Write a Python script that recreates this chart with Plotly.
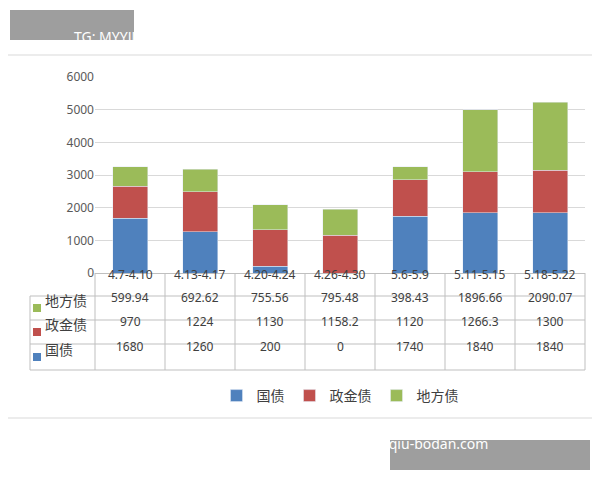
import plotly.graph_objects as go

periods = ["4.7-4.10", "4.13-4.17", "4.20-4.24", "4.26-4.30", "5.6-5.9", "5.11-5.15", "5.18-5.22"]
guozhai = [1680, 1260, 200, 0, 1740, 1840, 1840]
zhengjin = [970, 1224, 1130, 1158.2, 1120, 1266.3, 1300]
difang = [599.94, 692.62, 755.56, 795.48, 398.43, 1896.66, 2090.07]
series_names = ["国债", "政金债", "地方债"]
colors = ["#4f81bd", "#c0504d", "#9bbb59"]

# page body has an 8px margin, so work in screen pixels and shift
OFF = 8
W, H = 600, 480
L, R, T, B = 95 - OFF, 585 - OFF, 77 - OFF, 273 - OFF


def px(x):
    return (x - OFF - L) / (R - L)


def py(y):
    return (B - (y - OFF)) / (B - T)


fig = go.Figure()
for name, vals, c in zip(series_names, [guozhai, zhengjin, difang], colors):
    fig.add_trace(go.Bar(x=periods, y=vals, name=name, marker_color=c))

shapes = []
ann = []
line = dict(color="#bfbfbf", width=1)
shapes.append(dict(type="rect", xref="paper", yref="paper", x0=px(2), x1=px(598), y0=py(418), y1=py(55),
                   line=dict(color="#d9d9d9", width=1), layer="below"))
ncol = len(periods)
cw = (585 - 95) / ncol
for yy in [296, 320, 344, 370]:
    shapes.append(dict(type="line", xref="paper", yref="paper", x0=px(30), x1=px(585), y0=py(yy), y1=py(yy), line=line))
for k in range(ncol + 1):
    shapes.append(dict(type="line", xref="paper", yref="paper", x0=px(95 + k * cw), x1=px(95 + k * cw),
                       y0=py(273), y1=py(370), line=line))
shapes.append(dict(type="line", xref="paper", yref="paper", x0=px(30), x1=px(30), y0=py(296), y1=py(370), line=line))

font = dict(family="Noto Sans", size=12, color="#404040")
for p in periods:
    ann.append(dict(x=p, xref="x", y=py(285), yref="paper", text=p, showarrow=False, font=font))
rows = [(difang, "地方债", colors[2], 308), (zhengjin, "政金债", colors[1], 332), (guozhai, "国债", colors[0], 357)]
for vals, label, c, yy in rows:
    shapes.append(dict(type="rect", xref="paper", yref="paper", x0=px(33), x1=px(41), y0=py(yy + 4), y1=py(yy - 4),
                       fillcolor=c, line=dict(width=0)))
    ann.append(dict(x=px(43), xref="paper", y=py(yy + 4), yref="paper", text=label, showarrow=False, xanchor="left",
                    font=dict(family="Noto Sans CJK SC", size=14, color="#404040")))
    for p, v in zip(periods, vals):
        ann.append(dict(x=p, xref="x", y=py(yy), yref="paper", text=f"{v:g}", showarrow=False, font=font))

shapes.append(dict(type="rect", xref="paper", yref="paper", x0=px(10), x1=px(134), y0=py(40), y1=py(10),
                   fillcolor="#9e9e9e", line=dict(width=0), layer="below"))
ann.append(dict(x=px(72), xref="paper", y=py(25), yref="paper", text="TG: MYYJJPP", showarrow=False,
                font=dict(family="Noto Sans", size=14, color="white")))
shapes.append(dict(type="rect", xref="paper", yref="paper", x0=px(390), x1=px(590), y0=py(470), y1=py(440),
                   fillcolor="#9e9e9e", line=dict(width=0), layer="below"))
ann.append(dict(x=px(490), xref="paper", y=py(455), yref="paper", text="www.jiaoqiu-bodan.com", showarrow=False,
                font=dict(family="Noto Sans", size=14, color="white")))

fig.update_layout(
    barmode="stack", bargap=0.5, width=W, height=H,
    margin=dict(l=L, r=W - R, t=T, b=H - B),
    plot_bgcolor="white", paper_bgcolor="white",
    shapes=shapes, annotations=ann,
    legend=dict(orientation="h", traceorder="normal", x=0.5, xanchor="center", y=py(396), yanchor="middle",
                font=dict(family="Noto Sans CJK SC", size=14, color="#404040")),
    xaxis=dict(showticklabels=False, showline=True, linecolor="#bfbfbf"),
    yaxis=dict(range=[0, 6000], dtick=1000, gridcolor="#d9d9d9", zeroline=False,
               tickfont=dict(family="Noto Sans", size=12, color="#595959")),
)
fig.write_html("out.html")
